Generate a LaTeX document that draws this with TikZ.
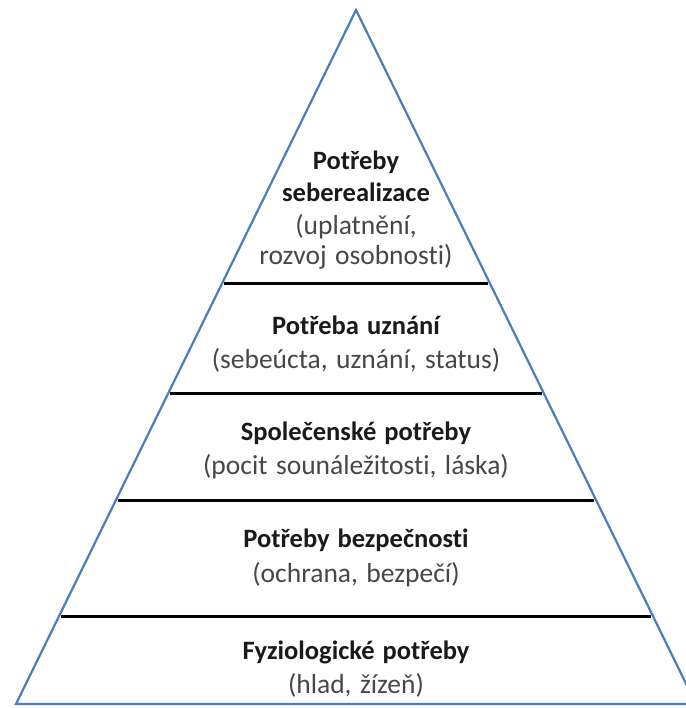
\documentclass[tikz,border=0pt]{standalone}
\usepackage{fontspec}
\setmainfont{Carlito}[Ligatures=NoCommon]
\usetikzlibrary{calc}
\definecolor{triblue}{HTML}{4A7EBB}
\definecolor{titlec}{HTML}{1A1A1A}
\definecolor{subc}{HTML}{474747}
\newcommand{\ttlfont}{\fontsize{26.5}{29}\selectfont\bfseries\spaceskip=8pt plus 1pt\relax}
\newcommand{\subfont}{\fontsize{27.5}{29}\selectfont\spaceskip=8.5pt plus 1pt\relax}
\tikzset{
  tri/.style={draw=triblue, line width=2.2pt, line join=miter},
  level/.style={draw=black, line width=3pt},
  ttl/.style={anchor=base, inner sep=0pt, text=titlec, font=\ttlfont},
  sub/.style={anchor=base, inner sep=0pt, text=subc, font=\subfont},
}
\begin{document}
\begin{tikzpicture}[x=1pt,y=-1pt]
\useasboundingbox (0,0) rectangle (685,708);
\fill[white] (0,0) rectangle (685,708);
\coordinate (A) at (356,10);
\coordinate (L) at (16,704);
\coordinate (R) at (696,704);
\draw[tri] (A) -- (L) -- (R) -- cycle;
% level lines
\foreach \n/\t in {1/0.3934,2/0.5519,3/0.7061,4/0.8732}{
  \coordinate (l\n) at ($(A)!\t!(L)$);
  \coordinate (r\n) at ($(A)!\t!(R)$);
  \draw[level] ([xshift=2pt]l\n) -- ([xshift=-2pt]r\n);
}
% level 1
\node[ttl] (t1a) at (356,170) {Potřeby};
\node[ttl] (t1b) at (356,202) {seberealizace};
\node[sub] (s1a) at (356,235) {(uplatnění,};
\node[sub] (s1b) at (356,265) {rozvoj osobnosti)};
% level 2
\node[ttl] (t2) at (356,334) {Potřeba uznání};
\node[sub] (s2) at (356,368) {(sebeúcta, uznání, status)};
% level 3
\node[ttl] (t3) at (356,440) {Společenské potřeby};
\node[sub] (s3) at (356,474) {(pocit sounáležitosti, láska)};
% level 4
\node[ttl] (t4) at (356,547) {Potřeby bezpečnosti};
\node[sub] (s4) at (356,582) {(ochrana, bezpečí)};
% level 5
\node[ttl] (t5) at (356,659) {Fyziologické potřeby};
\node[sub] (s5) at (356,693) {(hlad, žízeň)};
\end{tikzpicture}
\end{document}
